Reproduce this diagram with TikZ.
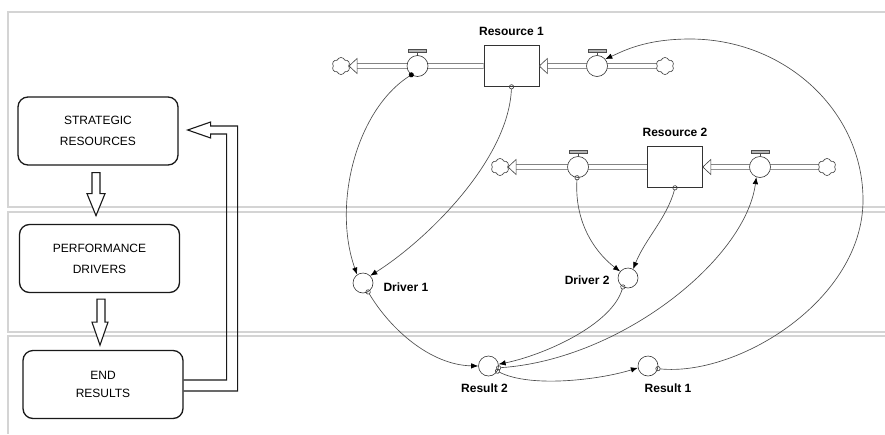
\documentclass[tikz,border=0pt]{standalone}
\usepackage{fontspec}
\setmainfont{Liberation Sans}
\usetikzlibrary{arrows.meta}
\usetikzlibrary{positioning}
\usetikzlibrary{shapes.symbols, backgrounds}

\begin{document}
\begin{tikzpicture}[x=1pt,y=-1pt,
  lane/.style={draw=black!17,line width=1.3pt},
  stage/.style={draw=black!90,line width=1.3pt,rounded corners=10pt,minimum width=160pt,minimum height=68pt,align=center,font=\fontsize{12}{21}\selectfont},
  hollow/.style={draw=black!90,line width=1.1pt,fill=white},
  stock/.style={draw=black!80,line width=0.6pt,fill=white,minimum width=55pt,minimum height=41pt,inner sep=0pt},
  valve/.style={circle,draw=black!80,line width=0.6pt,fill=white,minimum size=21pt,inner sep=0pt},
  valvetop/.style={draw=black!70,line width=0.6pt},
  conv/.style={circle,draw=black!80,line width=0.6pt,fill=white,minimum size=20pt,inner sep=0pt},
  sink/.style={cloud,cloud puffs=6,cloud puff arc=140,aspect=1,draw=black!80,line width=0.6pt,fill=white,minimum width=18pt,minimum height=17pt,inner sep=0pt},
  pipe/.style={draw=black!75,line width=0.6pt,double=white,double distance=4pt},
  flowhead/.style={draw=black!75,line width=0.6pt,fill=white},
  lbl/.style={font=\bfseries\fontsize{12}{14}\selectfont,inner sep=1pt},
  link/.style={draw=black!70,line width=0.65pt,shorten <=-2.5pt,{Circle[open,length=5pt,color=black!75]}-{Latex[length=7pt,width=5.5pt,color=black]}},
  linkdot/.style={draw=black!70,line width=0.65pt,shorten <=-2.5pt,{Circle[length=5pt,color=black]}-{Latex[length=7pt,width=5.5pt,color=black]}},
]
\useasboundingbox (0,0) rectangle (885,434);

% lanes
\draw[lane] (885,12) -- (8,12) -- (8,207) -- (885,207);
\draw[lane] (885,212) -- (8,212) -- (8,332) -- (885,332);
\draw[lane] (885,336) -- (8,336) -- (8,434);

% left column
\node[stage] (SR) at (98,131) {STRATEGIC\\RESOURCES};
\node[stage] (PD) at (99.5,258.5) {PERFORMANCE\\DRIVERS};
\node[stage] (ER) at (103,384.5) {END\\[-3pt]RESULTS};

\draw[hollow] ([shift={(-6,7)}]SR.south) -- ++(8,0) -- ++(0,21) -- ++(5,0) -- ++(-9,22) -- ++(-9,-22) -- ++(5,0) -- cycle;
\draw[hollow] ([shift={(-2.5,6)}]PD.south) -- ++(8,0) -- ++(0,23) -- ++(3,0) -- ++(-8,23) -- ++(-8,-23) -- ++(5,0) -- cycle;
\draw[hollow,fill=none] ([yshift=4.5pt]ER.east) -- ++(43,0) -- ++(0,-246) -- ++(-16,0) -- ++(0,4) -- ++(-23,-8) -- ++(23,-8) -- ++(0,4) -- ++(27,0) -- ++(0,265) -- ++(-54,0);

% stocks and flows
\node[sink] (C1L) at (341,66) {};
\node[valve] (V1o) at (417.5,66) {};
\node[stock,label={[lbl,label distance=8pt]above:Resource 1}] (R1) at (511.5,66) {};
\node[valve] (V1i) at (597,66) {};
\node[sink] (C1R) at (665,66) {};

\node[sink] (C2L) at (500,167) {};
\node[valve] (V2o) at (578,167) {};
\node[stock,label={[lbl,label distance=8pt]above:Resource 2}] (R2) at (675,167) {};
\node[valve] (V2i) at (760,167) {};
\node[sink] (C2R) at (827,167) {};

\begin{scope}[on background layer]
\draw[pipe] (R1.west) -- ([xshift=8pt]C1L.east);
\draw[pipe] (C1R.west) -- ([xshift=8pt]R1.east);
\draw[pipe] (R2.west) -- ([xshift=8pt]C2L.east);
\draw[pipe] (C2R.west) -- ([xshift=8pt]R2.east);
\end{scope}
\draw[flowhead] (C1L.east) -- ++(8,-7.5) -- ++(0,15) -- cycle;
\draw[flowhead] (R1.east) -- ++(8,-7.5) -- ++(0,15) -- cycle;
\draw[flowhead] (C2L.east) -- ++(8,-7.5) -- ++(0,15) -- cycle;
\draw[flowhead] (R2.east) -- ++(8,-7.5) -- ++(0,15) -- cycle;

\foreach \v in {V1o,V1i,V2o,V2i}{
  \draw[valvetop] (\v.north) -- ++(0,-3);
  \draw[valvetop,fill=black!30] ([shift={(-9,-3)}]\v.north) rectangle ++(18,-2.5);
}

% converters
\node[conv] (D1) at (363,283) {};
\node[lbl,right=9pt of D1,yshift=-4pt] (D1l) {Driver 1};
\node[conv] (D2) at (628,278) {};
\node[lbl,left=7pt of D2,yshift=-2pt] (D2l) {Driver 2};
\node[conv] (Res2) at (488.5,366) {};
\node[lbl,below=6.5pt of Res2,xshift=-4pt] (Res2l) {Result 2};
\node[conv] (Res1) at (648,366) {};
\node[lbl,below=6pt of Res1,xshift=20pt] (Res1l) {Result 1};

% links
\draw[linkdot] (V1o.235) .. controls +(-55,35) and +(-25,-70) .. (D1.125);
\draw[link] (R1.south) .. controls +(-3,73) and +(57,-36) .. (D1.45);
\draw[link] (V2o.265) .. controls +(-3,50) and +(-20,-15) .. (D2.140);
\draw[link] (R2.south) .. controls +(-8,30) and +(12,-30) .. (D2.60);
\draw[link] (D1.-60) .. controls +(22,37) and +(-48,-1) .. (Res2.west);
\draw[link] (D2.-120) .. controls +(-11,38) and +(45,-9) .. (Res2.10);
\draw[link] (Res2.-10) .. controls +(121,-8) and +(-11,83) .. (V2i.250);
\draw[link] (Res2.-30) .. controls +(33,17) and +(-38,12) .. (Res1.190);
\coordinate (loopR) at (863,200);
\coordinate (loopT) at (690,39);
\draw[link] (Res1.-15) .. controls +(80,8) and +(0,100) .. (loopR) .. controls +(0,-89) and +(95,0) .. (loopT) .. controls +(-45,0) and +(18,-8) .. (V1i.40);

\end{tikzpicture}
\end{document}
